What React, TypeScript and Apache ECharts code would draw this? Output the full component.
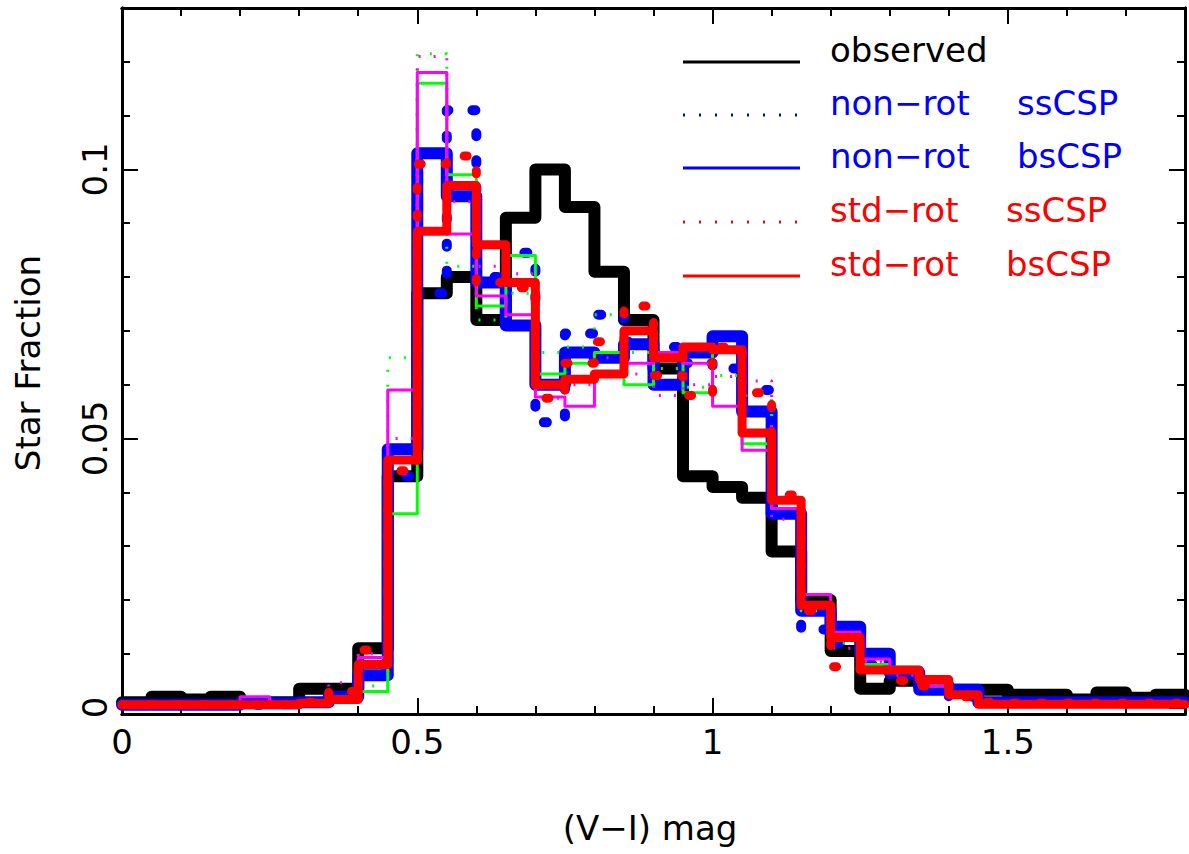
import React, { useEffect, useRef } from "react";
import * as echarts from "echarts";

// bin edges (V-I) mag, width 0.05
const binEdges = [
  0, 0.05, 0.1, 0.15, 0.2, 0.25, 0.3, 0.35, 0.4, 0.45, 0.5, 0.55, 0.6, 0.65, 0.7, 0.75,
  0.8, 0.85, 0.9, 0.95, 1.0, 1.05, 1.1, 1.15, 1.2, 1.25, 1.3, 1.35, 1.4, 1.45, 1.5, 1.55,
  1.6, 1.65, 1.7, 1.75, 1.8,
];

const observed = [
  0.001, 0.002, 0.0015, 0.002, 0.001, 0.001, 0.0035, 0.0035, 0.011, 0.043, 0.077, 0.08,
  0.072, 0.091, 0.1, 0.093, 0.081, 0.072, 0.063, 0.043, 0.041, 0.039, 0.029, 0.02,
  0.0105, 0.0035, 0.005, 0.004, 0.0033, 0.0033, 0.0024, 0.0024, 0.0015, 0.0028, 0.0018, 0.0024,
];
const nonRotSs = [
  0.0005, 0.0005, 0.0005, 0.0005, 0.0005, 0.0008, 0.001, 0.002, 0.006, 0.043, 0.077, 0.111,
  0.08, 0.0845, 0.053, 0.0695, 0.073, 0.068, 0.067, 0.064, 0.063, 0.059, 0.036, 0.0145,
  0.012, 0.008, 0.006, 0.004, 0.002, 0.001, 0.001, 0.001, 0.001, 0.001, 0.001, 0.001,
];
const nonRotBs = [
  0.0005, 0.0005, 0.0005, 0.0005, 0.0008, 0.0008, 0.001, 0.002, 0.006, 0.048, 0.103, 0.095,
  0.079, 0.071, 0.06, 0.066, 0.065, 0.0675, 0.06, 0.066, 0.069, 0.055, 0.036, 0.018,
  0.015, 0.01, 0.0065, 0.0033, 0.0033, 0.001, 0.001, 0.001, 0.001, 0.001, 0.001, 0.001,
];
const stdRotSs = [
  0.0005, 0.0005, 0.0005, 0.0005, 0.0005, 0.0005, 0.001, 0.003, 0.0107, 0.044, 0.101, 0.1025,
  0.079, 0.078, 0.0575, 0.064, 0.068, 0.0746, 0.0617, 0.058, 0.067, 0.0585, 0.0395, 0.018,
  0.0076, 0.007, 0.005, 0.004, 0.002, 0.001, 0.0008, 0.0008, 0.0008, 0.0008, 0.0008, 0.0008,
];
const stdRotBs = [
  0.0005, 0.0005, 0.0005, 0.0005, 0.0005, 0.0005, 0.0008, 0.0015, 0.008, 0.046, 0.0885, 0.097,
  0.086, 0.079, 0.06, 0.061, 0.062, 0.07, 0.065, 0.067, 0.0665, 0.051, 0.0385, 0.019,
  0.013, 0.007, 0.007, 0.0052, 0.0024, 0.0006, 0.0006, 0.0006, 0.0006, 0.0006, 0.0006, 0.0006,
];
const greenSolid = [
  0.0003, 0.0003, 0.0003, 0.0003, 0.0003, 0.0005, 0.0008, 0.0015, 0.003, 0.036, 0.116, 0.099,
  0.0746, 0.084, 0.062, 0.064, 0.066, 0.06, 0.0657, 0.0585, 0.066, 0.049, 0.037, 0.019,
  0.013, 0.008, 0.0075, 0.004, 0.002, 0.001, 0.0008, 0.0008, 0.0008, 0.0008, 0.0008, 0.0008,
];
const greenDotted = [
  0.0003, 0.0003, 0.0003, 0.0003, 0.0003, 0.0005, 0.0008, 0.0015, 0.004, 0.065, 0.1215, 0.082,
  0.072, 0.077, 0.066, 0.067, 0.073, 0.066, 0.063, 0.0595, 0.0617, 0.058, 0.037, 0.018,
  0.012, 0.007, 0.007, 0.004, 0.002, 0.001, 0.0008, 0.0008, 0.0008, 0.0008, 0.0008, 0.0008,
];
const magentaSolid = [
  0.0005, 0.0005, 0.0005, 0.0005, 0.002, 0.001, 0.001, 0.002, 0.0093, 0.059, 0.118, 0.088,
  0.0765, 0.073, 0.0577, 0.056, 0.062, 0.064, 0.066, 0.064, 0.056, 0.0478, 0.037, 0.021,
  0.014, 0.009, 0.007, 0.004, 0.002, 0.001, 0.0008, 0.0008, 0.0008, 0.0008, 0.0008, 0.0008,
];
const magentaDotted = [
  0.0005, 0.0005, 0.0005, 0.0005, 0.001, 0.001, 0.0015, 0.0046, 0.01, 0.05, 0.121, 0.094,
  0.082, 0.0806, 0.0575, 0.06, 0.065, 0.062, 0.058, 0.06, 0.0615, 0.0607, 0.035, 0.019,
  0.011, 0.0085, 0.006, 0.004, 0.002, 0.001, 0.0008, 0.0008, 0.0008, 0.0008, 0.0008, 0.0008,
];

const xMajorTicks = [0, 0.5, 1, 1.5];
const xMinorTicks = [0.1, 0.2, 0.3, 0.4, 0.6, 0.7, 0.8, 0.9, 1.1, 1.2, 1.3, 1.4, 1.6, 1.7];
const yMajorTicks = [0, 0.05, 0.1];
const yMinorTicks = [0.01, 0.02, 0.03, 0.04, 0.06, 0.07, 0.08, 0.09, 0.11, 0.12];

const legendRows = [
  { name: "observed", part2: "", color: "#000000", dotted: false },
  { name: "non\u2212rot", part2: "ssCSP", color: "#0000ff", dotted: true },
  { name: "non\u2212rot", part2: "bsCSP", color: "#0000ff", dotted: false },
  { name: "std\u2212rot", part2: "ssCSP", color: "#ff0000", dotted: true },
  { name: "std\u2212rot", part2: "bsCSP", color: "#ff0000", dotted: false },
];

const FONT = "DejaVu Sans";

function toSteps(values: number[]) {
  const pts: number[][] = values.map((v, i) => [binEdges[i], v]);
  pts.push([binEdges[values.length], values[values.length - 1]]);
  return pts;
}

export default function App() {
  const ref = useRef<HTMLDivElement>(null);
  useEffect(() => {
    if (!ref.current) return;
    const chart = echarts.init(ref.current, null, { renderer: "svg" });
    const X_MIN = 0, X_MAX = 1.8, Y_MIN = -0.0012, Y_MAX = 0.13;
    const axisLine = { show: true, onZero: false, lineStyle: { color: "#000", width: 3 } };
    const mkX = (pos: string, major: boolean, labels: boolean) => ({
      type: "value",
      position: pos,
      min: X_MIN,
      max: X_MAX,
      axisLine,
      splitLine: { show: false },
      axisTick: {
        show: true,
        inside: true,
        length: major ? 16 : 8,
        lineStyle: { color: "#000", width: 2 },
        customValues: major ? xMajorTicks : xMinorTicks,
      },
      axisLabel: labels
        ? { show: true, customValues: xMajorTicks, fontFamily: FONT, fontSize: 34, color: "#000", margin: 11 }
        : { show: false },
    });
    const mkY = (pos: string, major: boolean, labels: boolean) => ({
      type: "value",
      position: pos,
      min: Y_MIN,
      max: Y_MAX,
      axisLine,
      splitLine: { show: false },
      axisTick: {
        show: true,
        inside: true,
        length: major ? 16 : 8,
        lineStyle: { color: "#000", width: 2 },
        customValues: major ? yMajorTicks : yMinorTicks,
      },
      axisLabel: labels
        ? { show: true, customValues: yMajorTicks, rotate: 90, fontFamily: FONT, fontSize: 34, color: "#000", margin: 10 }
        : { show: false },
    });

    const mkSeries = (name: string, data: number[], color: string, width: number, dash: any, z: number, cap = "round") => ({
      name,
      type: "line",
      step: "end",
      data: toSteps(data),
      showSymbol: false,
      symbol: "none",
      xAxisIndex: 0,
      yAxisIndex: 0,
      z,
      lineStyle: { color, width, type: dash, cap, join: "round" },
    });

    const graphics: any[] = [];
    const rowY = [62, 115, 168, 222, 276];
    legendRows.forEach((r, i) => {
      graphics.push({
        type: "line",
        shape: { x1: 683, y1: rowY[i], x2: 800, y2: rowY[i] },
        style: { stroke: r.color, lineWidth: 3, lineDash: r.dotted ? [2, 14] : null },
      });
      graphics.push({
        type: "text",
        x: 830,
        y: rowY[i] - 12,
        style: { text: r.name, fill: r.color, fontFamily: FONT, fontSize: 34, verticalAlign: "middle" },
      });
      if (r.part2) {
        graphics.push({
          type: "text",
          x: i >= 3 ? 1006 : 1017,
          y: rowY[i] - 12,
          style: { text: r.part2, fill: r.color, fontFamily: FONT, fontSize: 34, verticalAlign: "middle" },
        });
      }
    });
    graphics.push({
      type: "text",
      x: 650,
      y: 828,
      style: { text: "(V\u2212I) mag", fill: "#000", fontFamily: FONT, fontSize: 34, align: "center", verticalAlign: "middle" },
    });
    graphics.push({
      type: "text",
      x: 28,
      y: 363,
      rotation: Math.PI / 2,
      style: { text: "Star Fraction", fill: "#000", fontFamily: FONT, fontSize: 34, align: "center", verticalAlign: "middle" },
    });

    chart.setOption({
      animation: false,
      backgroundColor: "#ffffff",
      grid: { left: 122, right: 4, top: 8, bottom: 140, containLabel: false },
      xAxis: [mkX("bottom", true, true), mkX("bottom", false, false), mkX("top", true, false), mkX("top", false, false)],
      yAxis: [mkY("left", true, true), mkY("left", false, false), mkY("right", true, false), mkY("right", false, false)],
      series: [
        mkSeries("observed", observed, "#000000", 12, "solid", 2),
        mkSeries("non-rot ssCSP", nonRotSs, "#0000ff", 10, [3, 24], 3),
        mkSeries("non-rot bsCSP", nonRotBs, "#0000ff", 12, "solid", 4),
        mkSeries("green", greenSolid, "#00ff00", 3, "solid", 5, "butt"),
        mkSeries("green dotted", greenDotted, "#00ff00", 3, [2, 13], 5, "butt"),
        mkSeries("magenta", magentaSolid, "#ff00ff", 3, "solid", 5, "butt"),
        mkSeries("magenta dotted", magentaDotted, "#ff00ff", 3, [2, 13], 5, "butt"),
        mkSeries("std-rot ssCSP", stdRotSs, "#ff0000", 9, [3, 24], 6),
        mkSeries("std-rot bsCSP", stdRotBs, "#ff0000", 9, "solid", 7),
      ],
      graphic: graphics,
    });
    return () => chart.dispose();
  }, []);
  return (
    <div
      ref={ref}
      style={{ position: "fixed", left: 0, top: 0, width: 1189, height: 854, background: "#fff" }}
    />
  );
}
